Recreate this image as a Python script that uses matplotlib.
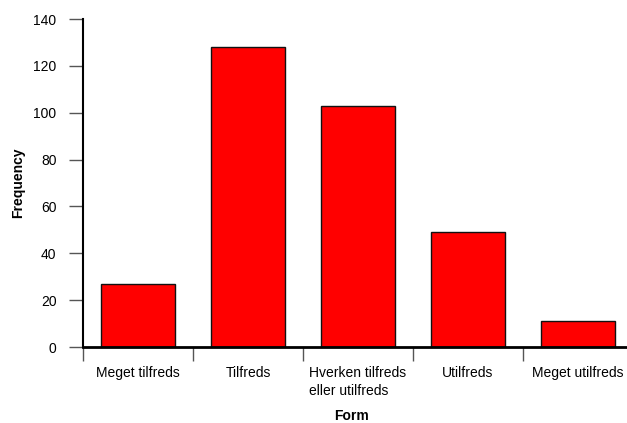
import matplotlib
matplotlib.use("Agg")
import matplotlib.pyplot as plt
import numpy as np

categories = ["Meget tilfreds", "Tilfreds", "Hverken tilfreds\neller utilfreds",
              "Utilfreds", "Meget utilfreds"]
frequency = [27, 128, 103, 49, 11]
y_ticks = [0, 20, 40, 60, 80, 100, 120, 140]

plt.rcParams['font.family'] = ['Liberation Sans', 'DejaVu Sans']
plt.rcParams['font.size'] = 10

fig = plt.figure(figsize=(6.27, 4.23), dpi=100)
ax = fig.add_axes([83 / 627, 76 / 423, 544 / 627, 328 / 423])

x = np.arange(len(categories)) + 0.5
ax.bar(x, frequency, width=0.67, color='#ff0000', edgecolor='#111111', linewidth=1)

xmax = 544 / 110.0
ax.set_xlim(0, xmax)
ax.set_ylim(0, 140)
ax.set_yticks(y_ticks)

# ticks at category boundaries, labels under centres
ax.set_xticks(np.arange(len(categories)))
ax.set_xticklabels([])
ax.set_xticks(x, minor=True)
ax.set_xticklabels(categories, minor=True, ha='center', va='top')
ax.tick_params(axis='x', which='major', length=10, width=1, color='#555555')
ax.tick_params(axis='x', which='minor', length=0, pad=14)
ax.tick_params(axis='y', length=10, width=1, color='#555555', pad=9)
for lbl in ax.get_xticklabels(minor=True):
    lbl.set_multialignment('left')
    lbl.set_linespacing(1.3)

ax.spines['top'].set_visible(False)
ax.spines['right'].set_visible(False)
ax.spines['left'].set_linewidth(1.5)
ax.spines['bottom'].set_linewidth(2)

ax.set_ylabel('Frequency', fontweight='bold')
ax.yaxis.set_label_coords(-0.107, 0.5)
ax.set_xlabel('Form', fontweight='bold')
ax.xaxis.set_label_coords(0.494, -0.188)

fig.savefig('out.png', dpi=100)
